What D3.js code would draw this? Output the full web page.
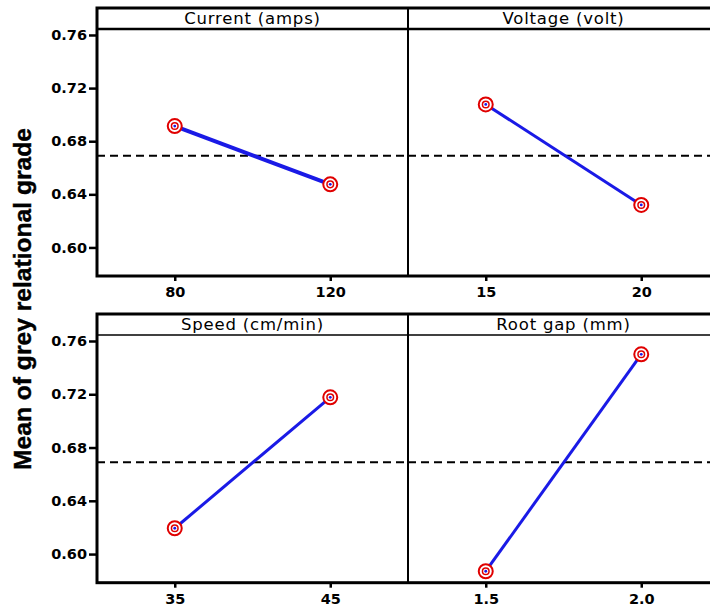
<!DOCTYPE html>
<html>
<head>
<meta charset="utf-8">
<script src="https://cdn.jsdelivr.net/npm/d3@7"></script>
<style>
  body { margin: 0; background: #fff; }
  svg { display: block; }
</style>
</head>
<body>
<script>
var svgWidth = 710,
    svgHeight = 607;

// values
var factors = ["Current (amps)", "Voltage (volt)", "Speed (cm/min)", "Root gap (mm)"];
var levels = [["80", "120"], ["15", "20"], ["35", "45"], ["1.5", "2.0"]];
var means = [[0.6914, 0.6475], [0.7077, 0.6320], [0.6194, 0.7177], [0.5871, 0.7500]];
var grandMean = 0.669;
var yTicks = [0.60, 0.64, 0.68, 0.72, 0.76];

var left = 97,
    panelW = 311,
    rows = [ { top: 8, head: 29, bottom: 276, headStroke: 2.5 },
             { top: 314, head: 335, bottom: 582.7, headStroke: 1.5 } ];

var svg = d3.select("body").append("svg")
    .attr("width", svgWidth)
    .attr("height", svgHeight);

// y axis title
svg.append("text")
    .attr("transform", "translate(31,299) rotate(-90)")
    .attr("text-anchor", "middle")
    .attr("textLength", 342)
    .attr("lengthAdjust", "spacingAndGlyphs")
    .style("font-family", "'Liberation Sans', Arial, sans-serif")
    .style("font-weight", "bold")
    .style("font-size", "24px")
    .style("stroke", "#000")
    .style("stroke-width", 0.4)
    .text("Mean of grey relational grade");

rows.forEach(function(row, r) {
    var y = d3.scaleLinear().domain([0.5785, 0.7645]).range([row.bottom, row.head]);

    var g = svg.append("g");

    // y axis with outward ticks
    var yAxis = g.append("g")
        .attr("transform", "translate(" + left + ",0)")
        .call(d3.axisLeft(y).tickValues(yTicks).tickSize(8).tickPadding(2).tickFormat(d3.format(".2f")));
    yAxis.select(".domain").remove();
    yAxis.selectAll(".tick line").attr("stroke", "#000").attr("stroke-width", 2.5);
    yAxis.selectAll(".tick text")
        .attr("fill", "#000")
        .style("font-family", "'DejaVu Sans', Verdana, sans-serif")
        .style("font-weight", "bold")
        .style("font-size", "14.5px");

    for (var c = 0; c < 2; c++) {
        var k = r * 2 + c;
        var x0 = left + c * panelW;
        var x = d3.scalePoint().domain(levels[k]).range([x0, x0 + panelW]).padding(0.5);

        var xAxis = g.append("g")
            .attr("transform", "translate(0," + row.bottom + ")")
            .call(d3.axisBottom(x).tickSize(5).tickPadding(6));
        xAxis.select(".domain").remove();
        xAxis.selectAll(".tick line").attr("stroke", "#000").attr("stroke-width", 2.5);
        xAxis.selectAll(".tick text")
            .attr("fill", "#000")
            .style("font-family", "'DejaVu Sans', Verdana, sans-serif")
            .style("font-weight", "bold")
            .style("font-size", "14.5px");

        // panel title
        g.append("text")
            .attr("x", x0 + panelW / 2)
            .attr("y", row.top + 16)
            .attr("text-anchor", "middle")
            .style("font-family", "'DejaVu Sans', Verdana, sans-serif")
            .style("font-size", "16.5px")
            .style("letter-spacing", "0.8px")
            .text(factors[k]);

        // dashed grand mean
        g.append("line")
            .attr("x1", x0).attr("x2", x0 + panelW)
            .attr("y1", y(grandMean)).attr("y2", y(grandMean))
            .attr("stroke", "#000")
            .attr("stroke-width", 2)
            .attr("stroke-dasharray", "8,5");

        var pts = levels[k].map(function(l, i) { return { lev: l, v: means[k][i] }; });

        g.append("path")
            .datum(pts)
            .attr("fill", "none")
            .attr("stroke", "#1a1ae6")
            .attr("stroke-width", k === 0 ? 4 : 3)
            .attr("d", d3.line().x(function(d) { return x(d.lev); }).y(function(d) { return y(d.v); }));

        var m = g.selectAll(null).data(pts).enter().append("g")
            .attr("transform", function(d) { return "translate(" + x(d.lev) + "," + y(d.v) + ")"; });
        m.append("circle").attr("r", 7).attr("fill", "#fff").attr("stroke", "#e00000").attr("stroke-width", 2);
        m.append("circle").attr("r", 3.3).attr("fill", "#fff").attr("stroke", "#e00000").attr("stroke-width", 1.5);
        m.append("circle").attr("r", 1.4).attr("fill", "#1a1ae6");
    }

    // frame, header rule and panel divider
    g.append("line")
        .attr("x1", left).attr("x2", left + 2 * panelW)
        .attr("y1", row.head).attr("y2", row.head)
        .attr("stroke", "#000").attr("stroke-width", row.headStroke);
    g.append("line")
        .attr("x1", left + panelW).attr("x2", left + panelW)
        .attr("y1", row.top).attr("y2", row.bottom)
        .attr("stroke", "#000").attr("stroke-width", 2);
    g.append("rect")
        .attr("x", left).attr("y", row.top)
        .attr("width", 2 * panelW).attr("height", row.bottom - row.top)
        .attr("fill", "none")
        .attr("stroke", "#000")
        .attr("stroke-width", 3);
});
</script>
</body>
</html>
